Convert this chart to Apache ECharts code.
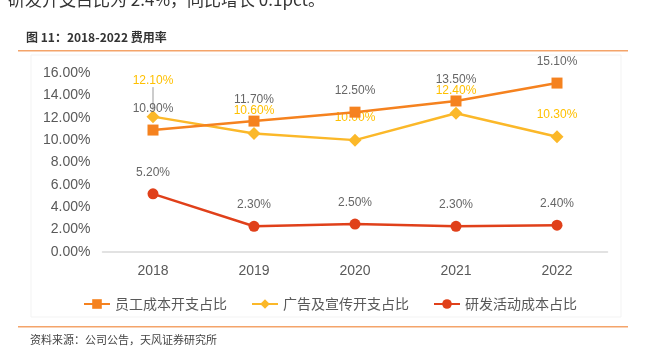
<!DOCTYPE html>
<html><head><meta charset="utf-8">
<script src="https://cdn.jsdelivr.net/npm/echarts@6/dist/echarts.min.js"></script>
<style>html,body{margin:0;padding:0;background:#fff}#c{width:651px;height:350px}</style>
</head><body><div id="c"></div>
<script>
const years = ['2018','2019','2020','2021','2022'];
const staffRatio = [10.9, 11.7, 12.5, 13.5, 15.1];
const adRatio = [12.1, 10.6, 10.0, 12.4, 10.3];
const rdRatio = [5.2, 2.3, 2.5, 2.3, 2.4];
const seriesNames = ['员工成本开支占比', '广告及宣传开支占比', '研发活动成本占比'];
const yTicks = {min: 0, max: 16, interval: 2};

const chart = echarts.init(document.getElementById('c'), null, {renderer: 'canvas'});
const fmt = p => p.value.toFixed(2) + '%';
const F = '"Liberation Sans", Arial, sans-serif';
const CJK = '"Noto Sans CJK SC", sans-serif';
const adData = adRatio.map((v, i) => i === 0
  ? {value: v, labelLine: {show: true, lineStyle: {color: '#999', width: 1}}}
  : {value: v, labelLine: {show: false}});
chart.setOption({
  animation: false,
  graphic: [
    {type: 'text', left: 8, top: -9, style: {text: '研发开支占比为 2.4%，同比增长 0.1pct。', font: '17px "Noto Sans CJK SC"', fill: '#333'}},
    {type: 'text', left: 26, top: 31, style: {text: '图 11：2018-2022 费用率', font: 'bold 12px "Noto Sans CJK SC"', fill: '#333'}},
    {type: 'rect', shape: {x: 18, y: 50, width: 610, height: 1.5}, style: {fill: '#F4A46A'}},
    {type: 'rect', shape: {x: 31, y: 55, width: 590, height: 262}, style: {fill: 'none', stroke: '#f3f3f3', lineWidth: 1}},
    {type: 'rect', shape: {x: 18, y: 326, width: 610, height: 1.5}, style: {fill: '#F4A46A'}},
    {type: 'text', left: 30, top: 334, style: {text: '资料来源：公司公告，天风证券研究所', font: '11px "Noto Sans CJK SC"', fill: '#444'}}
  ],
  grid: {left: 102.5, right: 43.5, top: 73, bottom: 98},
  legend: {
    left: 78, top: 292, itemWidth: 26, itemHeight: 12, itemGap: 24,
    textStyle: {fontFamily: CJK, fontSize: 14, color: '#595959'},
    data: seriesNames
  },
  xAxis: {
    type: 'category', data: years, boundaryGap: true,
    axisLine: {lineStyle: {color: '#d9d9d9', width: 1.5}},
    axisTick: {show: false},
    axisLabel: {fontFamily: F, fontSize: 14, color: '#595959', margin: 12}
  },
  yAxis: {
    type: 'value', min: yTicks.min, max: yTicks.max, interval: yTicks.interval,
    axisLine: {show: false}, axisTick: {show: false}, splitLine: {show: false},
    axisLabel: {fontFamily: F, fontSize: 14, color: '#595959', margin: 12, formatter: v => v.toFixed(2) + '%'}
  },
  series: [
    {
      name: seriesNames[0], type: 'line', data: staffRatio, symbol: 'rect', symbolSize: 11,
      itemStyle: {color: '#F5821F'}, lineStyle: {width: 2.5, color: '#F5821F'},
      label: {show: true, position: 'top', distance: 10, formatter: fmt, fontFamily: F, fontSize: 12, color: '#666'},
      z: 3
    },
    {
      name: seriesNames[1], type: 'line', data: adData, symbol: 'diamond', symbolSize: 13,
      itemStyle: {color: '#FBB829'}, lineStyle: {width: 2.5, color: '#FBB829'},
      label: {show: true, position: 'top', distance: 10, formatter: fmt, fontFamily: F, fontSize: 12, color: '#FFC000'},
      labelLayout: p => p.dataIndex === 0 ? {dy: -13} : {},
      z: 2
    },
    {
      name: seriesNames[2], type: 'line', data: rdRatio, symbol: 'circle', symbolSize: 11,
      itemStyle: {color: '#E0401A'}, lineStyle: {width: 2.5, color: '#E0401A'},
      label: {show: true, position: 'top', distance: 10, formatter: fmt, fontFamily: F, fontSize: 12, color: '#666'},
      z: 2
    }
  ]
});
</script></body></html>
